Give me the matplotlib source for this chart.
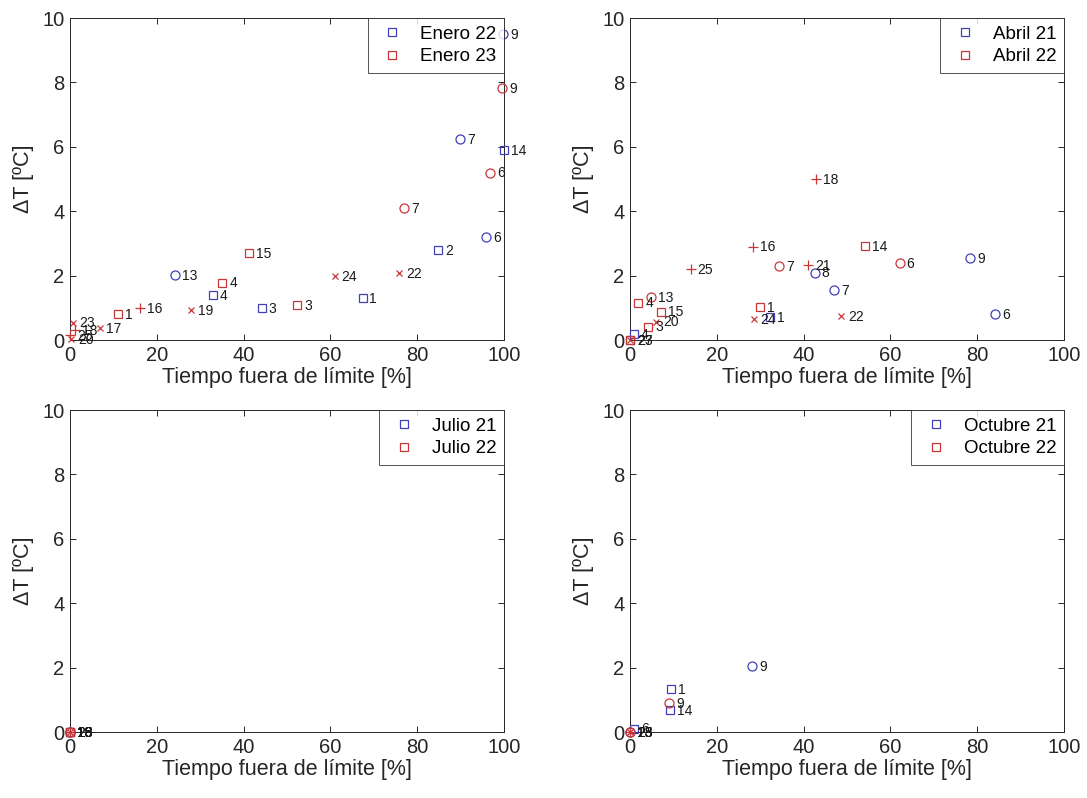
import matplotlib
matplotlib.use('Agg')
import matplotlib.pyplot as plt
from matplotlib.lines import Line2D

plt.rcParams['font.family'] = ['Liberation Sans', 'DejaVu Sans']

# tipo de punto -> marcador
MARK = {'c': 'o', 's': 's', 'x': 'x', 'p': '+'}
SIZE = {'c': 6.5, 's': 5.5, 'x': 4.5, 'p': 6.5}
BLUE = '#4040b8'
RED = '#c83737'
DARK = '#262626'

# ---- Enero ----
ene22_x = [99.8, 89.9, 100.0, 95.9, 84.9, 67.4, 44.2, 32.9, 24.2]
ene22_y = [9.5, 6.23, 5.9, 3.19, 2.8, 1.31, 0.98, 1.4, 2.02]
ene22_t = ['c', 'c', 's', 'c', 's', 's', 's', 's', 'c']
ene22_l = ['9', '7', '14', '6', '2', '1', '3', '4', '13']

ene23_x = [99.6, 96.8, 77.0, 41.2, 35.1, 52.4, 11.0, 61.0, 75.8, 27.9, 16.1, 6.8, 0.6, 1.2, 0.0, 0.2]
ene23_y = [7.83, 5.2, 4.09, 2.7, 1.78, 1.09, 0.8, 1.99, 2.07, 0.93, 0.98, 0.36, 0.54, 0.31, 0.14, 0.02]
ene23_t = ['c', 'c', 'c', 's', 's', 's', 's', 'x', 'x', 'x', 'p', 'x', 'x', 'p', 'p', 'x']
ene23_l = ['9', '6', '7', '15', '4', '3', '1', '24', '22', '19', '16', '17', '23', '18', '25', '20']

# ---- Abril ----
abr21_x = [78.4, 84.1, 42.6, 47.0, 32.2, 0.9, 0.0]
abr21_y = [2.54, 0.8, 2.09, 1.55, 0.72, 0.19, 0.0]
abr21_t = ['c', 'c', 'c', 'c', 's', 's', 's']
abr21_l = ['9', '6', '8', '7', '1', '4', '2']

abr22_x = [42.9, 54.1, 62.1, 41.0, 34.4, 28.3, 14.0, 48.7, 29.9, 28.5, 4.85, 1.9, 7.2, 6.1, 4.2, 0.0, 0.0]
abr22_y = [4.99, 2.92, 2.38, 2.33, 2.3, 2.9, 2.2, 0.75, 1.01, 0.65, 1.33, 1.16, 0.88, 0.57, 0.41, 0.0, 0.0]
abr22_t = ['p', 's', 'c', 'p', 'c', 'p', 'p', 'x', 's', 'x', 'c', 's', 's', 'x', 's', 'x', 's']
abr22_l = ['18', '14', '6', '21', '7', '16', '25', '22', '1', '24', '13', '4', '15', '20', '3', '23', '27']

# ---- Julio ----
jul21_x = [0.0, 0.0, 0.0]
jul21_y = [0.0, 0.0, 0.0]
jul21_t = ['c', 's', 's']
jul21_l = ['18', '13', '16']

jul22_x = [0.0, 0.0, 0.0, 0.0]
jul22_y = [0.0, 0.0, 0.0, 0.0]
jul22_t = ['c', 'x', 'p', 's']
jul22_l = ['19', '23', '25', '18']

# ---- Octubre ----
oct21_x = [28.1, 9.4, 9.2, 1.0, 0.0]
oct21_y = [2.05, 1.34, 0.68, 0.1, 0.0]
oct21_t = ['c', 's', 's', 's', 'c']
oct21_l = ['9', '1', '14', '6', '18']

oct22_x = [9.0, 0.0, 0.0, 0.0]
oct22_y = [0.89, 0.0, 0.0, 0.0]
oct22_t = ['c', 'c', 'x', 'p']
oct22_l = ['9', '13', '23', '25']

paneles = [
    ('Enero 22', ene22_x, ene22_y, ene22_t, ene22_l, 'Enero 23', ene23_x, ene23_y, ene23_t, ene23_l),
    ('Abril 21', abr21_x, abr21_y, abr21_t, abr21_l, 'Abril 22', abr22_x, abr22_y, abr22_t, abr22_l),
    ('Julio 21', jul21_x, jul21_y, jul21_t, jul21_l, 'Julio 22', jul22_x, jul22_y, jul22_t, jul22_l),
    ('Octubre 21', oct21_x, oct21_y, oct21_t, oct21_l, 'Octubre 22', oct22_x, oct22_y, oct22_t, oct22_l),
]

W, H = 1087, 798
fig = plt.figure(figsize=(W / 100, H / 100), dpi=100)

# (izq, arriba) de cada eje en pixeles
pos = [(70, 18), (630, 18), (70, 410), (630, 410)]
aw, ah = 434, 322


def puntos(ax, xs, ys, ts, ls, color):
    for x, y, t, l in zip(xs, ys, ts, ls):
        ax.plot(x, y, marker=MARK[t], color=color, mfc='none', ms=SIZE[t],
                mew=0.9, ls='none', clip_on=False, zorder=3)
        ax.annotate(l, (x, y), xytext=(5, -0.5), textcoords='offset points',
                    ha='left', va='center', fontsize=10, color='#1a1a1a', zorder=4)


for (px, py), p in zip(pos, paneles):
    ax = fig.add_axes([px / W, 1 - (py + ah) / H, aw / W, ah / H])
    n1, x1, y1, t1, l1, n2, x2, y2, t2, l2 = p
    puntos(ax, x1, y1, t1, l1, BLUE)
    puntos(ax, x2, y2, t2, l2, RED)

    ax.set_xlim(0, 100)
    ax.set_ylim(0, 10)
    ax.set_xticks(range(0, 101, 20))
    ax.set_yticks(range(0, 11, 2))
    ax.tick_params(direction='in', top=True, right=True, length=4, width=0.7,
                   labelsize=14.5, colors=DARK, pad=4)
    for s in ax.spines.values():
        s.set_color(DARK)
        s.set_linewidth(0.7)
    ax.set_xlabel('Tiempo fuera de límite [%]', fontsize=15.5, color=DARK, labelpad=2)
    ax.set_ylabel('ΔT [ºC]', fontsize=15.5, color=DARK, labelpad=6)

    h = [Line2D([], [], marker='s', color=BLUE, mfc='none', ls='none', ms=5.5, mew=0.9),
         Line2D([], [], marker='s', color=RED, mfc='none', ls='none', ms=5.5, mew=0.9)]
    leg = ax.legend(h, [n1, n2], loc='upper right', fontsize=13.5, frameon=True, fancybox=False,
                    borderaxespad=0, handlelength=1.8, handletextpad=0.6, borderpad=0.4,
                    labelspacing=0.3)
    leg.get_frame().set_edgecolor(DARK)
    leg.get_frame().set_linewidth(0.7)
    leg.set_zorder(5)

fig.savefig('out.png', dpi=100)
